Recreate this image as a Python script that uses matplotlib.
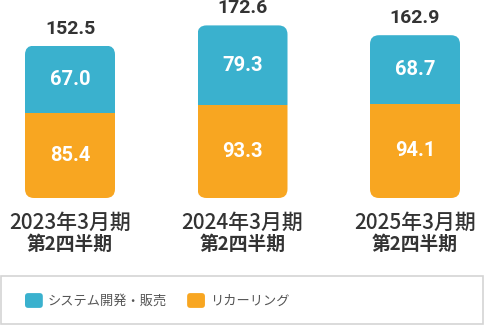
import matplotlib
matplotlib.use("Agg")
import matplotlib.pyplot as plt
from matplotlib.patches import FancyBboxPatch, Patch, Rectangle
from matplotlib.legend_handler import HandlerPatch

plt.rcParams['font.family'] = ['Noto Sans CJK JP', 'DejaVu Sans']

# Data
periods = ["2023年3月期", "2024年3月期", "2025年3月期"]
sub_label = "第2四半期"
system_dev = [67.0, 79.3, 68.7]      # システム開発・販売
recurring = [85.4, 93.3, 94.1]       # リカーリング
totals = [152.5, 172.6, 162.9]
series_names = ["システム開発・販売", "リカーリング"]

BLUE = "#3AB1CE"
ORANGE = "#F8A621"
DARK = "#333333"
NUM_FONT = ["Roboto", "DejaVu Sans"]

W, H = 484, 325
fig = plt.figure(figsize=(W / 100, H / 100), dpi=100)
ax = fig.add_axes([0, 0, 1, 1])

# one category step = 172.5 px, one value unit = 1 px
step_px = 172.5
x0_px = 70
base_px = 198
ax.set_xlim(-x0_px / step_px, (W - x0_px) / step_px)
ax.set_ylim(-(H - base_px), base_px)
ax.axis("off")

xs = list(range(len(periods)))
width = 90 / step_px
radius_px = 9

b1 = ax.bar(xs, recurring, width, color=ORANGE, linewidth=0)
b2 = ax.bar(xs, system_dev, width, bottom=recurring, color=BLUE, linewidth=0)

for i, x in enumerate(xs):
    tot = recurring[i] + system_dev[i]
    clip = FancyBboxPatch((x - width / 2, 0), width, tot,
                          boxstyle=f"round,pad=0,rounding_size={radius_px / step_px}",
                          mutation_aspect=step_px, transform=ax.transData)
    b1[i].set_clip_path(clip)
    b2[i].set_clip_path(clip)

    ax.text(x, totals[i] + 17, f"{totals[i]:.1f}", ha="center", va="center",
            fontsize=14, fontweight="bold", color=DARK, family=NUM_FONT)
    ax.text(x, recurring[i] + system_dev[i] / 2, f"{system_dev[i]:.1f}",
            ha="center", va="center", fontsize=14.5, fontweight="bold",
            color="white", family=NUM_FONT)
    ax.text(x, recurring[i] / 2, f"{recurring[i]:.1f}",
            ha="center", va="center", fontsize=14.5, fontweight="bold",
            color="white", family=NUM_FONT)
    ax.text(x, -25, periods[i], ha="center", va="center",
            fontsize=15, fontweight="medium", color=DARK)
    ax.text(x, -46, sub_label, ha="center", va="center",
            fontsize=13.5, fontweight="bold", color=DARK)

# Legend frame
fig.patches.append(Rectangle((0.5 / W, 1.5 / H), (W - 2) / W, 48 / H,
                             transform=fig.transFigure, fill=False,
                             edgecolor="#d4d4d4", linewidth=1.2))


class RoundSquare(HandlerPatch):
    def create_artists(self, legend, orig_handle, xdescent, ydescent,
                       width, height, fontsize, trans):
        p = FancyBboxPatch((-xdescent, -ydescent), width, height,
                           boxstyle=f"round,pad=0,rounding_size={width * 0.18}",
                           facecolor=orig_handle.get_facecolor(),
                           edgecolor="none", transform=trans)
        return [p]


handles = [Patch(facecolor=BLUE), Patch(facecolor=ORANGE)]
fig.legend(handles, series_names, loc="center left",
           bbox_to_anchor=(25 / W, (H - 300.5) / H), ncol=2, frameon=False,
           fontsize=9.5, handlelength=1.35, handleheight=1.35,
           handletextpad=0.4, columnspacing=1.5, borderpad=0, borderaxespad=0,
           labelcolor="#555555",
           handler_map={Patch: RoundSquare()})

fig.savefig("out.png", dpi=100)
